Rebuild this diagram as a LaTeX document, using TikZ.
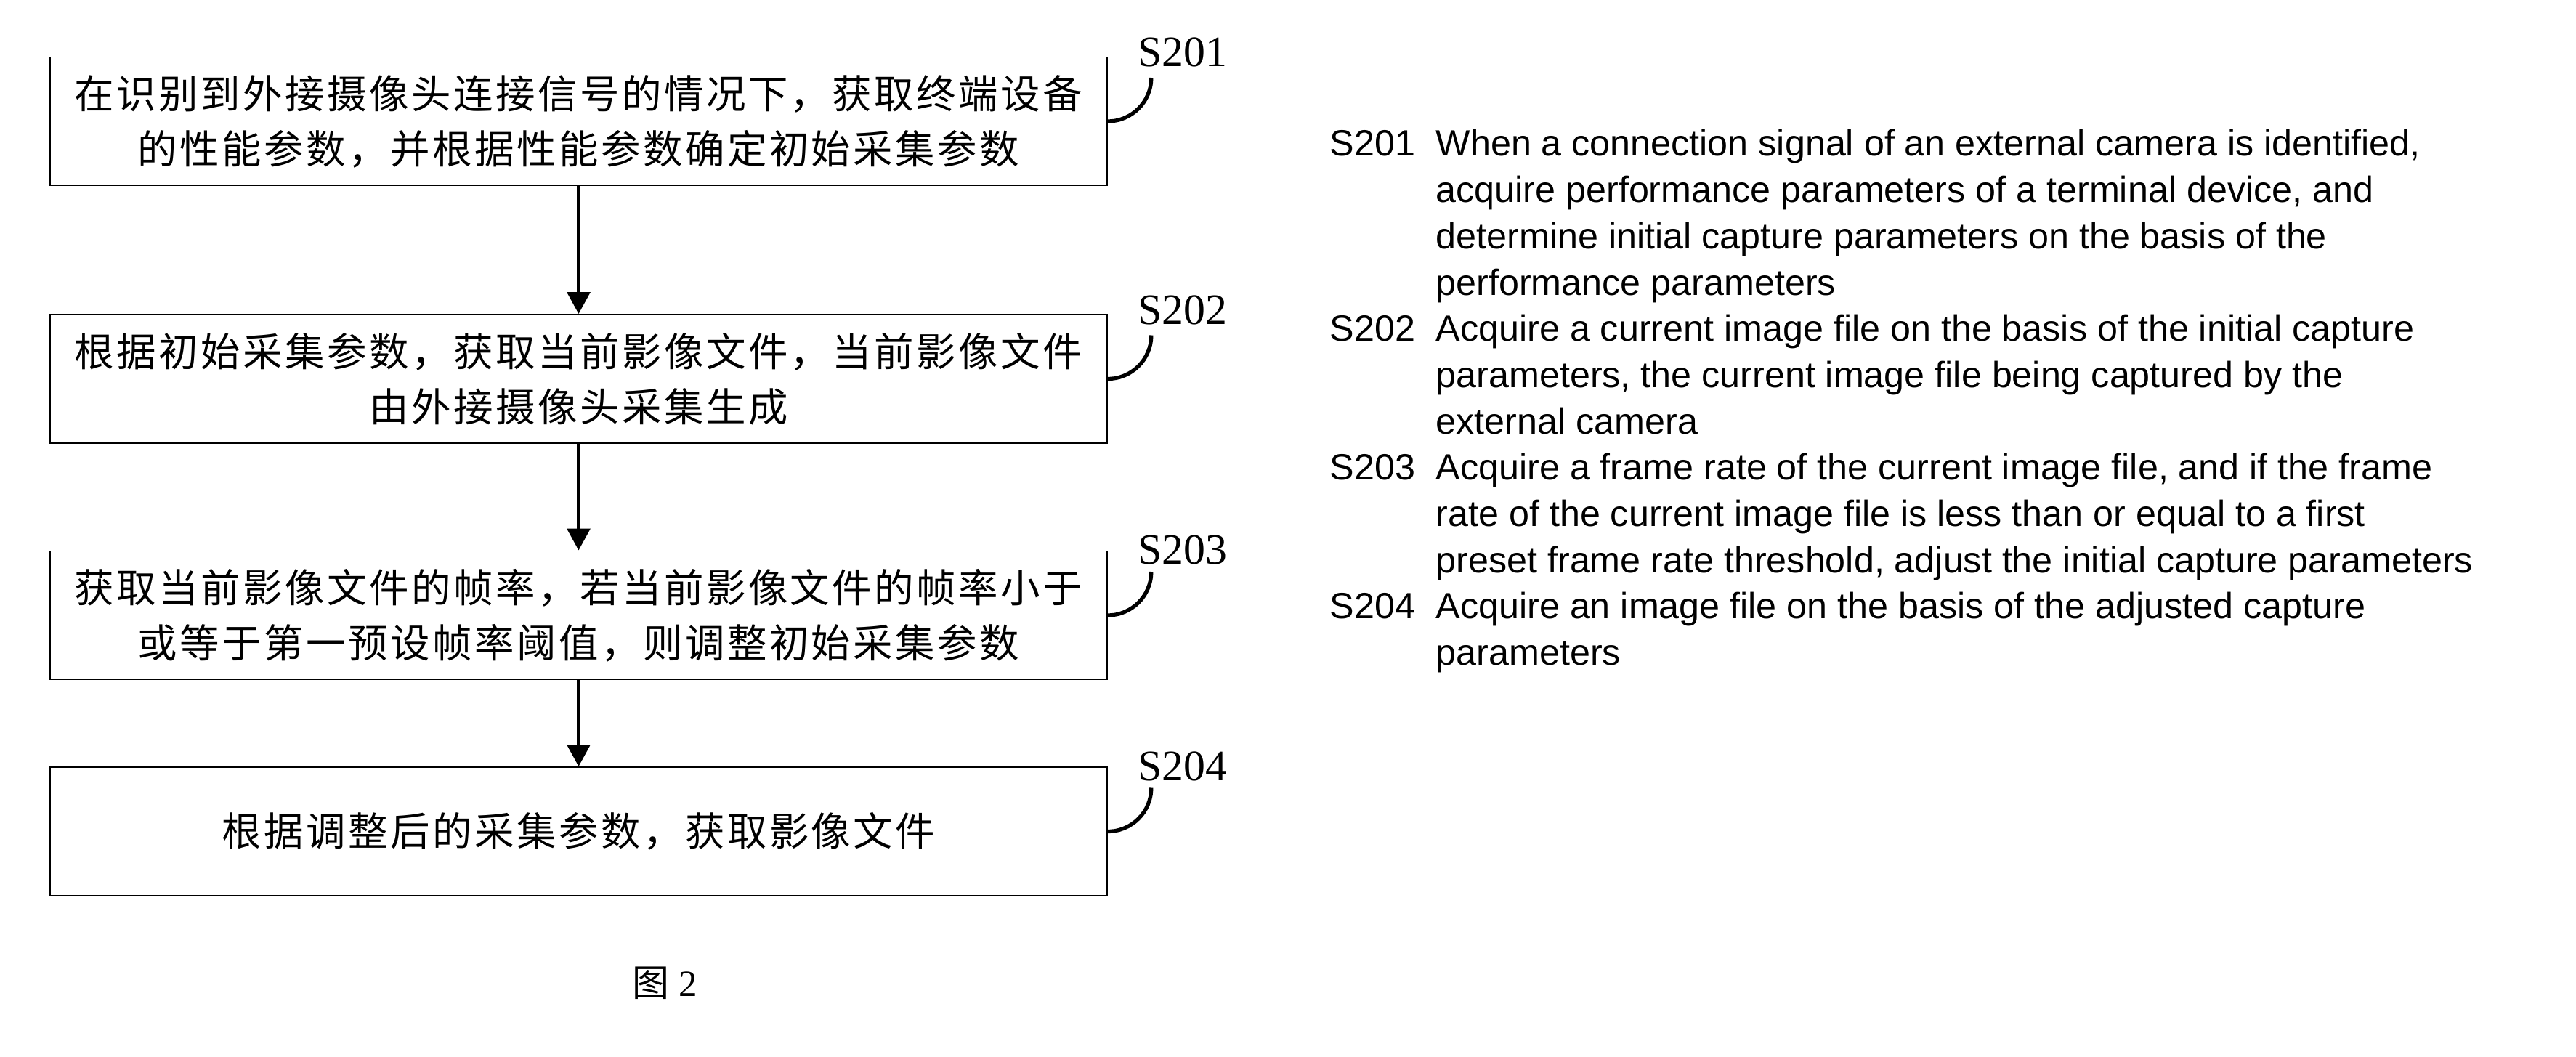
\documentclass[tikz,border=0pt]{standalone}
\usepackage{fontspec}
\setmainfont{Liberation Serif}
\newfontfamily\enfont{Liberation Sans}
\newfontfamily\zhfont{Noto Sans CJK SC}[LetterSpace=6.4]
\usetikzlibrary{arrows.meta}
\tikzset{
  stepbox/.style={draw, line width=0.45pt, minimum width=14.55cm, minimum height=1.77cm,
    inner sep=0pt, align=center, font=\zhfont\fontsize{15.5pt}{21.6pt}\selectfont},
  flow/.style={line width=1.6pt, -{Triangle[length=0.3cm,width=0.31cm]}},
  leader/.style={line width=1.5pt},
  steplabel/.style={anchor=base west, inner sep=0pt, font=\fontsize{17pt}{20pt}\selectfont},
  entext/.style={anchor=base west, inner sep=0pt, font=\enfont\fontsize{14.3pt}{18pt}\selectfont},
  captext/.style={inner sep=0pt, font=\fontsize{14.5pt}{17pt}\selectfont},
}
\begin{document}
\begin{tikzpicture}
\useasboundingbox (0,0) rectangle (35.46,14.54);

% flow boxes
\node[stepbox] (b1) at (7.965,12.87) {在识别到外接摄像头连接信号的情况下，获取终端设备\\的性能参数，并根据性能参数确定初始采集参数};
\node[stepbox] (b2) at (7.965,9.325) {根据初始采集参数，获取当前影像文件，当前影像文件\\由外接摄像头采集生成};
\node[stepbox] (b3) at (7.965,6.07) {获取当前影像文件的帧率，若当前影像文件的帧率小于\\或等于第一预设帧率阈值，则调整初始采集参数};
\node[stepbox] (b4) at (7.965,3.095) {根据调整后的采集参数，获取影像文件};

% arrows
\draw[flow] (b1.south) -- (b2.north);
\draw[flow] (b2.south) -- (b3.north);
\draw[flow] (b3.south) -- (b4.north);

% step labels and leaders
\node[steplabel] (l1) at ([shift={(0.41,-0.135)}]b1.north east) {S201};
\node[steplabel] (l2) at ([shift={(0.41,-0.14)}]b2.north east) {S202};
\node[steplabel] (l3) at ([shift={(0.41,-0.19)}]b3.north east) {S203};
\node[steplabel] (l4) at ([shift={(0.41,-0.19)}]b4.north east) {S204};
\draw[leader] (b1.east) arc[start angle=-90, end angle=0, radius=0.6cm];
\draw[leader] (b2.east) arc[start angle=-90, end angle=0, radius=0.6cm];
\draw[leader] (b3.east) arc[start angle=-90, end angle=0, radius=0.6cm];
\draw[leader] (b4.east) arc[start angle=-90, end angle=0, radius=0.6cm];

% caption
\node[captext] (cap) at (9.15,1.01) {{\zhfont 图} 2};

% English legend
\node[entext] (k1) at (18.30,12.39) {S201};
\node[entext] (t1) at (19.76,12.39) {When a connection signal of an external camera is identified,};
\node[entext] (t2) at (19.76,11.753) {acquire performance parameters of a terminal device, and};
\node[entext] (t3) at (19.76,11.116) {determine initial capture parameters on the basis of the};
\node[entext] (t4) at (19.76,10.479) {performance parameters};
\node[entext] (k2) at (18.30,9.842) {S202};
\node[entext] (t5) at (19.76,9.842) {Acquire a current image file on the basis of the initial capture};
\node[entext] (t6) at (19.76,9.205) {parameters, the current image file being captured by the};
\node[entext] (t7) at (19.76,8.568) {external camera};
\node[entext] (k3) at (18.30,7.931) {S203};
\node[entext] (t8) at (19.76,7.931) {Acquire a frame rate of the current image file, and if the frame};
\node[entext] (t9) at (19.76,7.294) {rate of the current image file is less than or equal to a first};
\node[entext] (t10) at (19.76,6.657) {preset frame rate threshold, adjust the initial capture parameters};
\node[entext] (k4) at (18.30,6.02) {S204};
\node[entext] (t11) at (19.76,6.02) {Acquire an image file on the basis of the adjusted capture};
\node[entext] (t12) at (19.76,5.383) {parameters};
\end{tikzpicture}
\end{document}
